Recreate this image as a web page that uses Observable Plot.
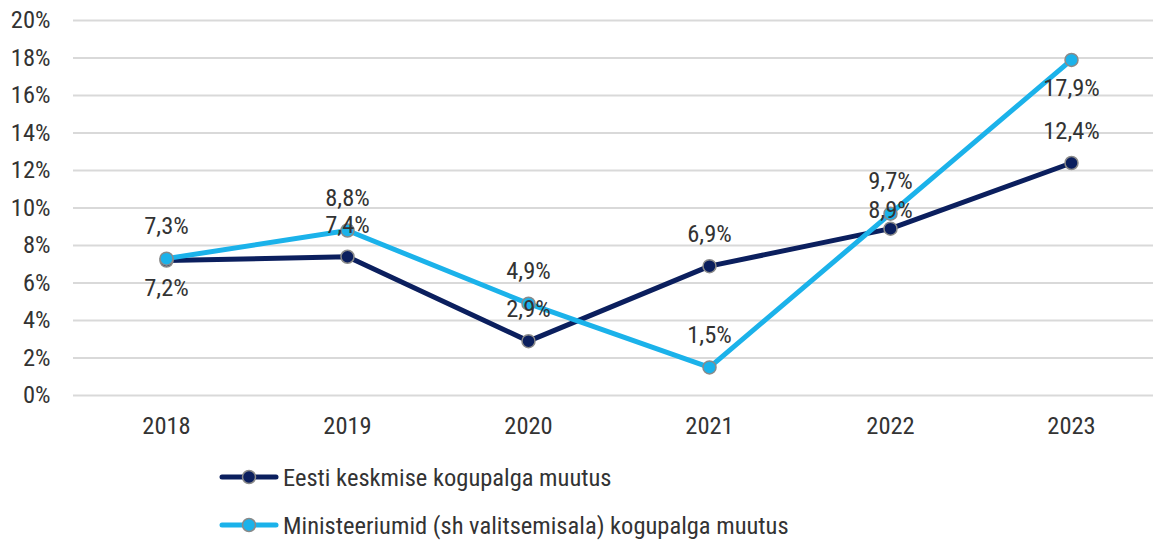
<!DOCTYPE html>
<html>
<head>
<meta charset="utf-8">
<script src="https://cdn.jsdelivr.net/npm/d3@7"></script>
<script src="https://cdn.jsdelivr.net/npm/@observablehq/plot@0.6"></script>
<style>
  html, body { margin: 0; padding: 0; background: #fff; }
  body { width: 1153px; height: 540px; position: relative; overflow: hidden;
         font-family: "Roboto Condensed", "Liberation Sans Narrow", "DejaVu Sans Condensed", sans-serif;
         font-stretch: condensed; color: #333; }
  #legend { position: absolute; left: 0; top: 0; width: 1153px; height: 540px; pointer-events: none; }
  .item { position: absolute; left: 219px; display: flex; align-items: center; height: 30px; font-size: 24.5px; }
  .item svg { display: block; margin-right: 4px; }
</style>
</head>
<body>
<div id="chart"></div>
<div id="legend"></div>
<script>
const years = ["2018", "2019", "2020", "2021", "2022", "2023"];
const eestiValues = [7.2, 7.4, 2.9, 6.9, 8.9, 12.4];
const ministeeriumidValues = [7.3, 8.8, 4.9, 1.5, 9.7, 17.9];
const eestiLabelPlacement = ["below", "above", "above", "above", "near", "above"];
const ministeeriumidLabelPlacement = ["above", "above", "above", "above", "above", "below"];
const seriesNames = ["Eesti keskmise kogupalga muutus", "Ministeeriumid (sh valitsemisala) kogupalga muutus"];
const seriesColors = ["#0b1f5e", "#1bb2ea"];
const yTicks = [0, 2, 4, 6, 8, 10, 12, 14, 16, 18, 20];

const rows = [];
years.forEach((y, i) => {
  rows.push({year: y, value: eestiValues[i], series: seriesNames[0], place: eestiLabelPlacement[i]});
});
years.forEach((y, i) => {
  rows.push({year: y, value: ministeeriumidValues[i], series: seriesNames[1], place: ministeeriumidLabelPlacement[i]});
});
const fmt = v => v.toFixed(1).replace(".", ",") + "%";

const font = '"Roboto Condensed", "Liberation Sans Narrow", "DejaVu Sans Condensed", sans-serif';
const FS = 24.5;
const labelText = (place, dy) => Plot.text(rows.filter(d => d.place === place), {
  x: "year", y: "value", text: d => fmt(d.value), dy, fill: "#333", fontSize: FS
});

const chart = Plot.plot({
  width: 1153,
  height: 445,
  marginLeft: 73,
  marginRight: 0,
  marginTop: 20,
  marginBottom: 50,
  style: {fontFamily: font, fontSize: FS + "px", fontStretch: "condensed", color: "#333", background: "#fff"},
  x: {type: "point", domain: years, range: [164, 1073], padding: 0, label: null},
  y: {domain: [0, 20], label: null},
  color: {domain: seriesNames, range: seriesColors},
  marks: [
    Plot.ruleY(yTicks, {stroke: "#d9d9d9", strokeWidth: 2}),
    Plot.axisY({ticks: yTicks, tickFormat: d => d + "%", tickSize: 0, tickPadding: 23, fill: "#333", fontSize: FS, label: null}),
    Plot.axisX({tickSize: 0, tickPadding: 21, fill: "#333", fontSize: FS, label: null}),
    Plot.line(rows, {x: "year", y: "value", stroke: "series", z: "series", strokeWidth: 5, strokeLinejoin: "round", strokeLinecap: "round"}),
    Plot.dot(rows, {x: "year", y: "value", fill: "series", r: 6.5, stroke: "#8a8a8a", strokeWidth: 1.5}),
    labelText("above", -32),
    labelText("near", -18),
    labelText("below", 28)
  ]
});
document.getElementById("chart").appendChild(chart);

const legend = document.getElementById("legend");
const legendTops = [462, 510];
seriesNames.forEach((name, i) => {
  const div = document.createElement("div");
  div.className = "item";
  div.style.top = legendTops[i] + "px";
  div.innerHTML = `<svg width="60" height="20"><line x1="3" y1="10" x2="57" y2="10" stroke="${seriesColors[i]}" stroke-width="5" stroke-linecap="round"/><circle cx="30" cy="10" r="6.5" fill="${seriesColors[i]}" stroke="#8a8a8a" stroke-width="1.5"/></svg><span>${name}</span>`;
  legend.appendChild(div);
});
</script>
</body>
</html>
